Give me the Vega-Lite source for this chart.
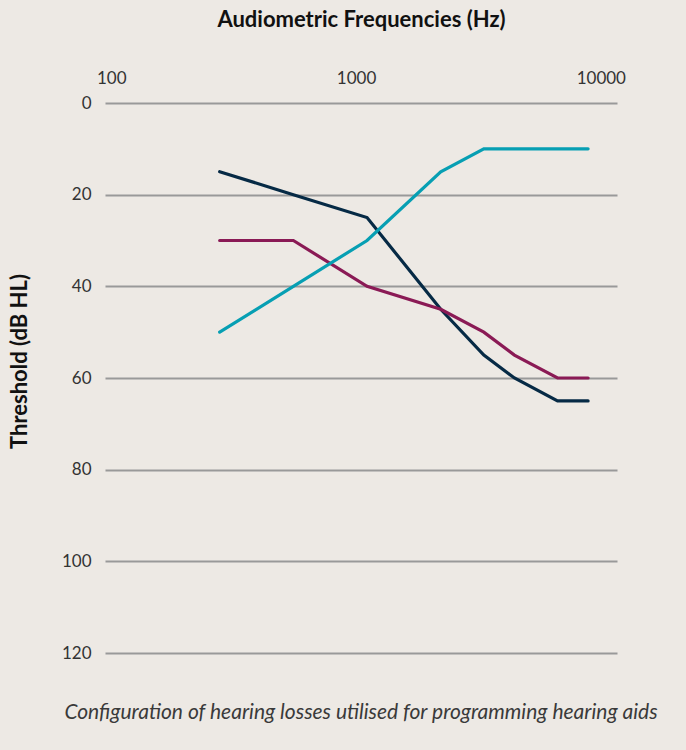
{
  "$schema": "https://vega.github.io/schema/vega-lite/v6.json",
  "autosize": {"type": "none"},
  "padding": {"left": 105, "top": 103, "right": 69, "bottom": 97},
  "width": 512,
  "height": 550,
  "background": "#ede9e4",
  "title": {
    "text": "Configuration of hearing losses utilised for programming hearing aids",
    "orient": "bottom",
    "offset": 41,
    "font": "Lato",
    "fontStyle": "italic",
    "fontWeight": "normal",
    "fontSize": 21,
    "color": "#3a3a3a",
    "anchor": "middle"
  },
  "config": {
    "view": {"stroke": null},
    "font": "Lato"
  },
  "data": {
    "values": [
      {"series": "navy", "freq": 250, "db": 15},
      {"series": "navy", "freq": 500, "db": 20},
      {"series": "navy", "freq": 1000, "db": 25},
      {"series": "navy", "freq": 2000, "db": 45},
      {"series": "navy", "freq": 3000, "db": 55},
      {"series": "navy", "freq": 4000, "db": 60},
      {"series": "navy", "freq": 6000, "db": 65},
      {"series": "navy", "freq": 8000, "db": 65},
      {"series": "magenta", "freq": 250, "db": 30},
      {"series": "magenta", "freq": 500, "db": 30},
      {"series": "magenta", "freq": 1000, "db": 40},
      {"series": "magenta", "freq": 2000, "db": 45},
      {"series": "magenta", "freq": 3000, "db": 50},
      {"series": "magenta", "freq": 4000, "db": 55},
      {"series": "magenta", "freq": 6000, "db": 60},
      {"series": "magenta", "freq": 8000, "db": 60},
      {"series": "teal", "freq": 250, "db": 50},
      {"series": "teal", "freq": 500, "db": 40},
      {"series": "teal", "freq": 1000, "db": 30},
      {"series": "teal", "freq": 2000, "db": 15},
      {"series": "teal", "freq": 3000, "db": 10},
      {"series": "teal", "freq": 4000, "db": 10},
      {"series": "teal", "freq": 6000, "db": 10},
      {"series": "teal", "freq": 8000, "db": 10}
    ]
  },
  "mark": {"type": "line", "strokeWidth": 3.2, "strokeCap": "round"},
  "encoding": {
    "x": {
      "field": "freq",
      "type": "quantitative",
      "scale": {"type": "log", "domain": [85, 10500], "nice": false},
      "axis": {
        "orient": "top",
        "title": "Audiometric Frequencies (Hz)",
        "titleFont": "Lato",
        "titleFontSize": 22,
        "titleFontWeight": "bold",
        "titleColor": "#111111",
        "titlePadding": 38,
        "values": [100, 1000, 10000],
        "format": "d",
        "labelFont": "Lato",
        "labelFontSize": 17,
        "labelColor": "#333333",
        "labelPadding": 16,
        "labelOffset": -11,
        "ticks": false,
        "domain": false,
        "grid": false
      }
    },
    "y": {
      "field": "db",
      "type": "quantitative",
      "scale": {"domain": [0, 120], "reverse": true, "nice": false},
      "axis": {
        "title": "Threshold (dB HL)",
        "titleFont": "Lato",
        "titleFontSize": 22,
        "titleFontWeight": "bold",
        "titleColor": "#111111",
        "titlePadding": 30,
        "titleY": 258,
        "values": [0, 20, 40, 60, 80, 100, 120],
        "labelFont": "Lato",
        "labelFontSize": 17,
        "labelColor": "#333333",
        "labelPadding": 14,
        "ticks": false,
        "domain": false,
        "grid": true,
        "gridColor": "#999999",
        "gridWidth": 2
      }
    },
    "color": {
      "field": "series",
      "type": "nominal",
      "scale": {"domain": ["navy", "magenta", "teal"], "range": ["#062a45", "#8a1a55", "#079fb3"]},
      "legend": null
    }
  }
}
